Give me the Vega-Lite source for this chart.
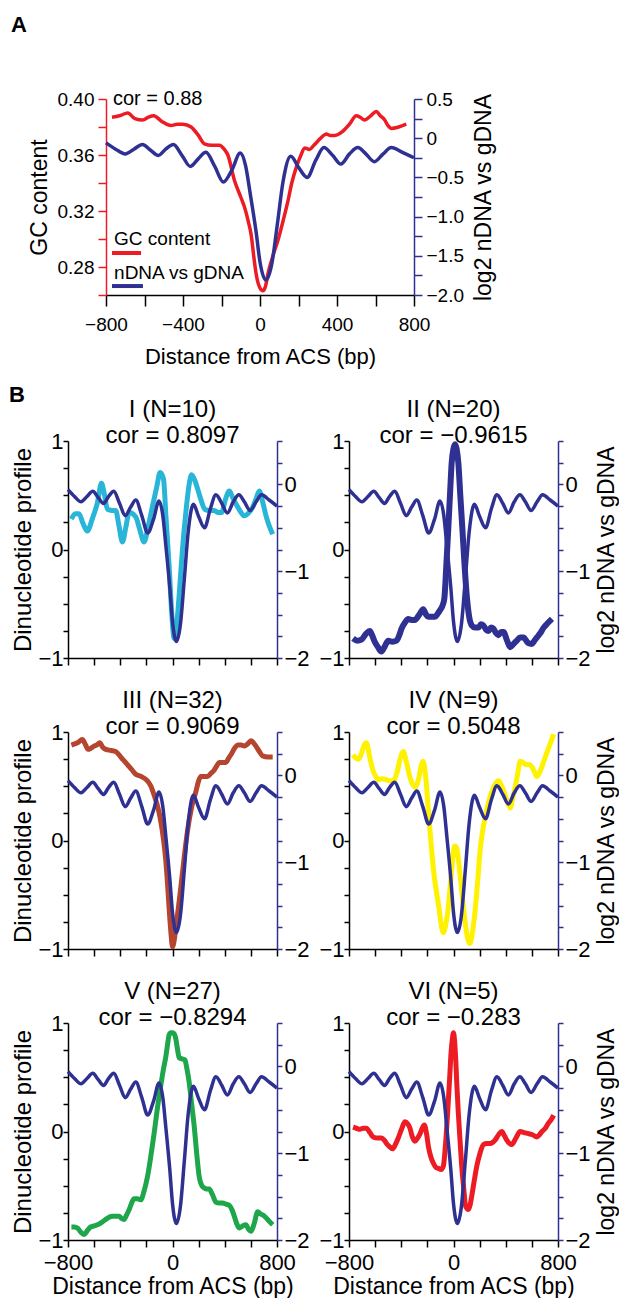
{
"$schema": "https://vega.github.io/schema/vega-lite/v6.json",
"background": "white",
"padding": {"left": 8, "top": 14, "right": 0, "bottom": 0},
"config": {
  "font": "Liberation Sans",
  "view": {"stroke": null},
  "axis": {"grid": false, "labelFont": "Liberation Sans", "titleFont": "Liberation Sans", "labelColor": "#000", "titleColor": "#000", "titleFontWeight": "normal", "domainWidth": 1.5, "tickWidth": 1.5, "labelFlush": false, "labelOverlap": false, "labelBound": false},
  "title": {"font": "Liberation Sans", "fontWeight": "normal", "color": "#000"}
},
"datasets": {
"ndna": [{"pos":-800,"val":-0.06},{"pos":-750,"val":-0.14},{"pos":-700,"val":-0.2},{"pos":-655,"val":-0.14},{"pos":-610,"val":-0.08},{"pos":-570,"val":-0.15},{"pos":-528,"val":-0.22},{"pos":-490,"val":-0.14},{"pos":-450,"val":-0.08},{"pos":-405,"val":-0.22},{"pos":-362,"val":-0.36},{"pos":-320,"val":-0.26},{"pos":-281,"val":-0.18},{"pos":-235,"val":-0.36},{"pos":-190,"val":-0.56},{"pos":-145,"val":-0.4},{"pos":-103,"val":-0.19},{"pos":-75,"val":-0.35},{"pos":-50,"val":-0.72},{"pos":-20,"val":-1.2},{"pos":0,"val":-1.58},{"pos":30,"val":-1.81},{"pos":60,"val":-1.62},{"pos":90,"val":-1.1},{"pos":120,"val":-0.55},{"pos":160,"val":-0.23},{"pos":200,"val":-0.37},{"pos":245,"val":-0.5},{"pos":290,"val":-0.28},{"pos":332,"val":-0.12},{"pos":378,"val":-0.22},{"pos":420,"val":-0.33},{"pos":465,"val":-0.2},{"pos":508,"val":-0.12},{"pos":550,"val":-0.2},{"pos":594,"val":-0.3},{"pos":640,"val":-0.2},{"pos":682,"val":-0.12},{"pos":740,"val":-0.18},{"pos":800,"val":-0.25}],
"gc": [{"pos":-769,"val":0.387},{"pos":-730,"val":0.388},{"pos":-687,"val":0.39},{"pos":-650,"val":0.386},{"pos":-609,"val":0.385},{"pos":-580,"val":0.387},{"pos":-552,"val":0.388},{"pos":-510,"val":0.384},{"pos":-462,"val":0.381},{"pos":-430,"val":0.382},{"pos":-401,"val":0.382},{"pos":-358,"val":0.38},{"pos":-320,"val":0.374},{"pos":-289,"val":0.368},{"pos":-250,"val":0.367},{"pos":-211,"val":0.367},{"pos":-185,"val":0.364},{"pos":-167,"val":0.36},{"pos":-133,"val":0.342},{"pos":-100,"val":0.33},{"pos":-81,"val":0.323},{"pos":-60,"val":0.312},{"pos":-46,"val":0.303},{"pos":-30,"val":0.285},{"pos":-20,"val":0.275},{"pos":0,"val":0.265},{"pos":15,"val":0.263},{"pos":30,"val":0.267},{"pos":41,"val":0.275},{"pos":65,"val":0.287},{"pos":93,"val":0.299},{"pos":120,"val":0.313},{"pos":145,"val":0.327},{"pos":165,"val":0.34},{"pos":188,"val":0.351},{"pos":210,"val":0.359},{"pos":232,"val":0.365},{"pos":257,"val":0.364},{"pos":280,"val":0.367},{"pos":301,"val":0.37},{"pos":322,"val":0.373},{"pos":344,"val":0.375},{"pos":366,"val":0.374},{"pos":388,"val":0.374},{"pos":410,"val":0.375},{"pos":431,"val":0.377},{"pos":465,"val":0.382},{"pos":500,"val":0.388},{"pos":520,"val":0.387},{"pos":543,"val":0.385},{"pos":575,"val":0.388},{"pos":604,"val":0.391},{"pos":625,"val":0.388},{"pos":648,"val":0.385},{"pos":665,"val":0.381},{"pos":683,"val":0.379},{"pos":720,"val":0.38},{"pos":760,"val":0.382}],
"d1": [{"pos":-774,"val":0.28},{"pos":-745,"val":0.33},{"pos":-716,"val":0.33},{"pos":-685,"val":0.24},{"pos":-652,"val":0.17},{"pos":-615,"val":0.28},{"pos":-575,"val":0.43},{"pos":-544,"val":0.61},{"pos":-520,"val":0.5},{"pos":-498,"val":0.37},{"pos":-465,"val":0.36},{"pos":-435,"val":0.36},{"pos":-410,"val":0.22},{"pos":-383,"val":0.07},{"pos":-358,"val":0.2},{"pos":-332,"val":0.34},{"pos":-281,"val":0.3},{"pos":-250,"val":0.18},{"pos":-217,"val":0.07},{"pos":-185,"val":0.22},{"pos":-153,"val":0.4},{"pos":-120,"val":0.58},{"pos":-95,"val":0.71},{"pos":-69,"val":0.65},{"pos":-50,"val":0.3},{"pos":-26,"val":-0.15},{"pos":-5,"val":-0.6},{"pos":13,"val":-0.82},{"pos":32,"val":-0.7},{"pos":51,"val":-0.42},{"pos":75,"val":-0.02},{"pos":102,"val":0.34},{"pos":125,"val":0.58},{"pos":146,"val":0.69},{"pos":170,"val":0.64},{"pos":192,"val":0.56},{"pos":220,"val":0.45},{"pos":248,"val":0.37},{"pos":285,"val":0.36},{"pos":320,"val":0.36},{"pos":350,"val":0.34},{"pos":376,"val":0.34},{"pos":405,"val":0.46},{"pos":435,"val":0.54},{"pos":460,"val":0.48},{"pos":486,"val":0.42},{"pos":520,"val":0.35},{"pos":550,"val":0.31},{"pos":585,"val":0.34},{"pos":614,"val":0.39},{"pos":640,"val":0.47},{"pos":665,"val":0.54},{"pos":690,"val":0.44},{"pos":716,"val":0.31},{"pos":740,"val":0.22},{"pos":767,"val":0.14}],
"d2": [{"pos":-769,"val":-0.82},{"pos":-737,"val":-0.84},{"pos":-705,"val":-0.83},{"pos":-672,"val":-0.78},{"pos":-641,"val":-0.75},{"pos":-620,"val":-0.8},{"pos":-603,"val":-0.85},{"pos":-578,"val":-0.9},{"pos":-552,"val":-0.94},{"pos":-525,"val":-0.89},{"pos":-500,"val":-0.84},{"pos":-468,"val":-0.85},{"pos":-436,"val":-0.84},{"pos":-415,"val":-0.79},{"pos":-398,"val":-0.73},{"pos":-370,"val":-0.67},{"pos":-347,"val":-0.64},{"pos":-320,"val":-0.65},{"pos":-296,"val":-0.65},{"pos":-262,"val":-0.6},{"pos":-232,"val":-0.55},{"pos":-210,"val":-0.6},{"pos":-193,"val":-0.62},{"pos":-165,"val":-0.62},{"pos":-142,"val":-0.62},{"pos":-120,"val":-0.59},{"pos":-104,"val":-0.56},{"pos":-85,"val":-0.52},{"pos":-70,"val":-0.45},{"pos":-55,"val":-0.15},{"pos":-40,"val":0.19},{"pos":-25,"val":0.55},{"pos":-14,"val":0.8},{"pos":0,"val":0.93},{"pos":12,"val":0.97},{"pos":25,"val":0.92},{"pos":37,"val":0.8},{"pos":52,"val":0.5},{"pos":68,"val":0.19},{"pos":85,"val":-0.15},{"pos":101,"val":-0.42},{"pos":120,"val":-0.62},{"pos":140,"val":-0.7},{"pos":165,"val":-0.72},{"pos":191,"val":-0.72},{"pos":210,"val":-0.69},{"pos":229,"val":-0.7},{"pos":250,"val":-0.74},{"pos":268,"val":-0.75},{"pos":288,"val":-0.72},{"pos":306,"val":-0.73},{"pos":325,"val":-0.77},{"pos":344,"val":-0.79},{"pos":365,"val":-0.76},{"pos":383,"val":-0.76},{"pos":410,"val":-0.84},{"pos":434,"val":-0.9},{"pos":460,"val":-0.87},{"pos":485,"val":-0.84},{"pos":510,"val":-0.81},{"pos":536,"val":-0.81},{"pos":570,"val":-0.86},{"pos":600,"val":-0.87},{"pos":620,"val":-0.84},{"pos":639,"val":-0.81},{"pos":665,"val":-0.77},{"pos":690,"val":-0.72},{"pos":720,"val":-0.68},{"pos":754,"val":-0.64}],
"d3": [{"pos":-774,"val":0.88},{"pos":-750,"val":0.89},{"pos":-728,"val":0.9},{"pos":-690,"val":0.93},{"pos":-665,"val":0.88},{"pos":-647,"val":0.84},{"pos":-625,"val":0.85},{"pos":-601,"val":0.87},{"pos":-580,"val":0.88},{"pos":-557,"val":0.9},{"pos":-535,"val":0.86},{"pos":-511,"val":0.84},{"pos":-470,"val":0.83},{"pos":-435,"val":0.82},{"pos":-390,"val":0.76},{"pos":-345,"val":0.7},{"pos":-310,"val":0.65},{"pos":-281,"val":0.61},{"pos":-240,"val":0.59},{"pos":-192,"val":0.55},{"pos":-165,"val":0.5},{"pos":-141,"val":0.42},{"pos":-115,"val":0.32},{"pos":-90,"val":0.18},{"pos":-70,"val":0.02},{"pos":-51,"val":-0.19},{"pos":-38,"val":-0.4},{"pos":-26,"val":-0.62},{"pos":-12,"val":-0.85},{"pos":0,"val":-0.98},{"pos":13,"val":-0.92},{"pos":26,"val":-0.8},{"pos":45,"val":-0.62},{"pos":64,"val":-0.43},{"pos":90,"val":-0.15},{"pos":115,"val":0.09},{"pos":145,"val":0.3},{"pos":179,"val":0.45},{"pos":200,"val":0.55},{"pos":217,"val":0.59},{"pos":245,"val":0.59},{"pos":268,"val":0.59},{"pos":295,"val":0.62},{"pos":320,"val":0.65},{"pos":340,"val":0.69},{"pos":358,"val":0.72},{"pos":385,"val":0.72},{"pos":409,"val":0.72},{"pos":430,"val":0.76},{"pos":447,"val":0.79},{"pos":475,"val":0.85},{"pos":499,"val":0.88},{"pos":525,"val":0.88},{"pos":550,"val":0.87},{"pos":575,"val":0.89},{"pos":601,"val":0.92},{"pos":620,"val":0.9},{"pos":639,"val":0.87},{"pos":665,"val":0.82},{"pos":690,"val":0.78},{"pos":730,"val":0.77},{"pos":767,"val":0.77}],
"d4": [{"pos":-769,"val":0.79},{"pos":-748,"val":0.76},{"pos":-726,"val":0.75},{"pos":-700,"val":0.82},{"pos":-680,"val":0.89},{"pos":-667,"val":0.9},{"pos":-640,"val":0.76},{"pos":-615,"val":0.64},{"pos":-590,"val":0.58},{"pos":-577,"val":0.56},{"pos":-545,"val":0.57},{"pos":-513,"val":0.56},{"pos":-490,"val":0.55},{"pos":-462,"val":0.55},{"pos":-430,"val":0.64},{"pos":-405,"val":0.77},{"pos":-384,"val":0.82},{"pos":-360,"val":0.72},{"pos":-333,"val":0.58},{"pos":-295,"val":0.49},{"pos":-265,"val":0.58},{"pos":-245,"val":0.7},{"pos":-232,"val":0.73},{"pos":-210,"val":0.55},{"pos":-192,"val":0.27},{"pos":-175,"val":0.02},{"pos":-155,"val":-0.25},{"pos":-130,"val":-0.48},{"pos":-111,"val":-0.62},{"pos":-95,"val":-0.77},{"pos":-78,"val":-0.85},{"pos":-60,"val":-0.78},{"pos":-40,"val":-0.62},{"pos":-20,"val":-0.35},{"pos":0,"val":-0.1},{"pos":10,"val":-0.05},{"pos":24,"val":-0.07},{"pos":38,"val":-0.18},{"pos":50,"val":-0.31},{"pos":70,"val":-0.55},{"pos":88,"val":-0.74},{"pos":108,"val":-0.9},{"pos":124,"val":-0.95},{"pos":145,"val":-0.85},{"pos":165,"val":-0.65},{"pos":185,"val":-0.38},{"pos":203,"val":-0.1},{"pos":222,"val":0.08},{"pos":242,"val":0.21},{"pos":268,"val":0.35},{"pos":293,"val":0.45},{"pos":320,"val":0.52},{"pos":344,"val":0.55},{"pos":370,"val":0.5},{"pos":395,"val":0.42},{"pos":415,"val":0.35},{"pos":434,"val":0.3},{"pos":452,"val":0.38},{"pos":472,"val":0.49},{"pos":492,"val":0.62},{"pos":510,"val":0.73},{"pos":532,"val":0.72},{"pos":554,"val":0.7},{"pos":575,"val":0.7},{"pos":600,"val":0.68},{"pos":620,"val":0.63},{"pos":638,"val":0.59},{"pos":660,"val":0.63},{"pos":677,"val":0.68},{"pos":697,"val":0.75},{"pos":715,"val":0.81},{"pos":740,"val":0.89},{"pos":767,"val":0.98}],
"d5": [{"pos":-774,"val":-0.88},{"pos":-750,"val":-0.88},{"pos":-728,"val":-0.89},{"pos":-700,"val":-0.93},{"pos":-677,"val":-0.95},{"pos":-650,"val":-0.91},{"pos":-626,"val":-0.88},{"pos":-600,"val":-0.87},{"pos":-575,"val":-0.86},{"pos":-545,"val":-0.84},{"pos":-511,"val":-0.81},{"pos":-485,"val":-0.79},{"pos":-460,"val":-0.78},{"pos":-435,"val":-0.78},{"pos":-409,"val":-0.78},{"pos":-390,"val":-0.8},{"pos":-371,"val":-0.81},{"pos":-352,"val":-0.77},{"pos":-332,"val":-0.72},{"pos":-310,"val":-0.65},{"pos":-294,"val":-0.62},{"pos":-270,"val":-0.62},{"pos":-243,"val":-0.63},{"pos":-218,"val":-0.55},{"pos":-192,"val":-0.42},{"pos":-165,"val":-0.22},{"pos":-141,"val":-0.02},{"pos":-115,"val":0.22},{"pos":-90,"val":0.42},{"pos":-70,"val":0.57},{"pos":-51,"val":0.69},{"pos":-38,"val":0.8},{"pos":-26,"val":0.89},{"pos":-12,"val":0.91},{"pos":0,"val":0.91},{"pos":13,"val":0.9},{"pos":26,"val":0.85},{"pos":38,"val":0.76},{"pos":51,"val":0.68},{"pos":72,"val":0.67},{"pos":95,"val":0.66},{"pos":110,"val":0.58},{"pos":128,"val":0.45},{"pos":147,"val":0.25},{"pos":166,"val":0.05},{"pos":185,"val":-0.2},{"pos":205,"val":-0.42},{"pos":225,"val":-0.5},{"pos":243,"val":-0.52},{"pos":262,"val":-0.53},{"pos":281,"val":-0.53},{"pos":305,"val":-0.58},{"pos":332,"val":-0.65},{"pos":358,"val":-0.66},{"pos":383,"val":-0.66},{"pos":410,"val":-0.67},{"pos":434,"val":-0.68},{"pos":455,"val":-0.72},{"pos":473,"val":-0.78},{"pos":492,"val":-0.85},{"pos":511,"val":-0.89},{"pos":537,"val":-0.87},{"pos":562,"val":-0.86},{"pos":582,"val":-0.9},{"pos":601,"val":-0.92},{"pos":625,"val":-0.85},{"pos":652,"val":-0.74},{"pos":675,"val":-0.76},{"pos":703,"val":-0.78},{"pos":735,"val":-0.82},{"pos":767,"val":-0.86}],
"d6": [{"pos":-769,"val":0.04},{"pos":-743,"val":0.03},{"pos":-718,"val":0.02},{"pos":-690,"val":0.03},{"pos":-667,"val":0.03},{"pos":-640,"val":-0.01},{"pos":-615,"val":-0.05},{"pos":-580,"val":-0.06},{"pos":-551,"val":-0.06},{"pos":-530,"val":-0.08},{"pos":-513,"val":-0.11},{"pos":-490,"val":-0.14},{"pos":-467,"val":-0.16},{"pos":-445,"val":-0.12},{"pos":-423,"val":-0.06},{"pos":-395,"val":0.03},{"pos":-372,"val":0.09},{"pos":-350,"val":0.07},{"pos":-333,"val":0.03},{"pos":-315,"val":-0.05},{"pos":-295,"val":-0.09},{"pos":-275,"val":-0.06},{"pos":-256,"val":-0.02},{"pos":-240,"val":0.03},{"pos":-223,"val":0.06},{"pos":-205,"val":-0.03},{"pos":-192,"val":-0.14},{"pos":-172,"val":-0.24},{"pos":-155,"val":-0.29},{"pos":-135,"val":-0.33},{"pos":-116,"val":-0.34},{"pos":-95,"val":-0.35},{"pos":-78,"val":-0.32},{"pos":-60,"val":-0.1},{"pos":-45,"val":0.17},{"pos":-30,"val":0.48},{"pos":-19,"val":0.72},{"pos":-8,"val":0.86},{"pos":0,"val":0.91},{"pos":8,"val":0.84},{"pos":16,"val":0.69},{"pos":26,"val":0.42},{"pos":37,"val":0.17},{"pos":50,"val":-0.08},{"pos":63,"val":-0.32},{"pos":78,"val":-0.52},{"pos":93,"val":-0.69},{"pos":114,"val":-0.72},{"pos":127,"val":-0.68},{"pos":139,"val":-0.6},{"pos":158,"val":-0.46},{"pos":178,"val":-0.32},{"pos":203,"val":-0.2},{"pos":229,"val":-0.12},{"pos":255,"val":-0.11},{"pos":280,"val":-0.11},{"pos":300,"val":-0.1},{"pos":318,"val":-0.08},{"pos":345,"val":-0.03},{"pos":370,"val":0.0},{"pos":390,"val":-0.04},{"pos":408,"val":-0.08},{"pos":428,"val":-0.11},{"pos":446,"val":-0.12},{"pos":478,"val":-0.06},{"pos":510,"val":0.0},{"pos":540,"val":-0.01},{"pos":574,"val":-0.02},{"pos":605,"val":-0.03},{"pos":638,"val":-0.05},{"pos":658,"val":-0.03},{"pos":677,"val":0.0},{"pos":703,"val":0.03},{"pos":728,"val":0.08},{"pos":748,"val":0.11},{"pos":767,"val":0.15}]
},
"spacing": 17,
"vconcat": [
{
  "title": {"text": "A", "anchor": "start", "fontSize": 22, "fontWeight": "bold", "dx": -17, "offset": 52},
  "width": 346, "height": 196,
  "layer": [
    {"data": {"name": "gc"}, "mark": {"type": "line", "color": "#ed1c24", "strokeWidth": 3.5, "interpolate": "monotone"},
     "encoding": {
       "x": {"field": "pos", "type": "quantitative", "scale": {"domain": [-800, 800], "range": [38, 346], "nice": false, "zero": false},
         "axis": {"values": [-800,-700,-600,-500,-400,-300,-200,-100,0,100,200,300,400,500,600,700,800], "labelExpr": "datum.value % 400 == 0 ? format(datum.value, 'd') : ''", "title": "Distance from ACS (bp)", "titleFontSize": 22, "labelFontSize": 19, "tickSize": 11, "labelPadding": 9, "titlePadding": 12, "domainColor": "#000", "tickColor": "#000"}},
       "y": {"field": "val", "type": "quantitative", "scale": {"domain": [0.26, 0.40], "nice": false, "zero": false},
         "axis": {"orient": "left", "offset": -38, "values": [0.26,0.28,0.30,0.32,0.34,0.36,0.38,0.40], "labelExpr": "round(datum.value*100) % 4 == 0 ? format(datum.value, '.2f') : ''", "title": "GC content", "titleFontSize": 23, "labelFontSize": 19, "tickSize": 8, "labelPadding": 4, "titlePadding": 6, "domainColor": "#ed1c24", "tickColor": "#ed1c24"}}}},
    {"data": {"values": [{"label": "cor = 0.88"}]}, "mark": {"type": "text", "align": "left", "baseline": "middle", "fontSize": 20, "color": "#000"},
     "encoding": {"x": {"datum": -764, "type": "quantitative"}, "y": {"datum": 0.40, "type": "quantitative", "scale": {"domain": [0.26, 0.40], "nice": false, "zero": false}, "axis": null}, "text": {"field": "label"}}},
    {"data": {"values": [{"label": "GC content"}]}, "mark": {"type": "text", "align": "left", "baseline": "middle", "fontSize": 19, "color": "#000"},
     "encoding": {"x": {"datum": -758, "type": "quantitative"}, "y": {"datum": 0.300, "type": "quantitative", "scale": {"domain": [0.26, 0.40], "nice": false, "zero": false}, "axis": null}, "text": {"field": "label"}}},
    {"data": {"values": [{"series": "GC content"}]}, "mark": {"type": "rule", "color": "#ed1c24", "strokeWidth": 4},
     "encoding": {"x": {"datum": -769, "type": "quantitative"}, "x2": {"datum": -618}, "y": {"datum": 0.290, "type": "quantitative", "scale": {"domain": [0.26, 0.40], "nice": false, "zero": false}, "axis": null}}},
    {"data": {"values": [{"label": "nDNA vs gDNA"}]}, "mark": {"type": "text", "align": "left", "baseline": "middle", "fontSize": 19, "color": "#000"},
     "encoding": {"x": {"datum": -758, "type": "quantitative"}, "y": {"datum": 0.2757, "type": "quantitative", "scale": {"domain": [0.26, 0.40], "nice": false, "zero": false}, "axis": null}, "text": {"field": "label"}}},
    {"data": {"values": [{"series": "nDNA vs gDNA"}]}, "mark": {"type": "rule", "color": "#2e3192", "strokeWidth": 4},
     "encoding": {"x": {"datum": -769, "type": "quantitative"}, "x2": {"datum": -608}, "y": {"datum": 0.2664, "type": "quantitative", "scale": {"domain": [0.26, 0.40], "nice": false, "zero": false}, "axis": null}}},
    {"data": {"name": "ndna"}, "mark": {"type": "line", "color": "#2e3192", "strokeWidth": 3.5, "interpolate": "monotone"},
     "encoding": {
       "x": {"field": "pos", "type": "quantitative"},
       "y": {"field": "val", "type": "quantitative", "scale": {"domain": [-2, 0.5], "nice": false, "zero": false},
         "axis": {"orient": "right", "values": [-2,-1.75,-1.5,-1.25,-1,-0.75,-0.5,-0.25,0,0.25,0.5], "labelExpr": "datum.value == 0 ? '0' : (round(datum.value*4) % 2 == 0 ? format(datum.value, '.1f') : '')", "title": "log2 nDNA vs gDNA", "titleAngle": 270, "titleBaseline": "top", "titleFontSize": 23, "labelFontSize": 19, "tickSize": 8, "labelPadding": 4, "titlePadding": 9, "domainColor": "#2e3192", "tickColor": "#2e3192"}}}}
  ],
  "resolve": {"scale": {"y": "independent"}}
},
{
  "title": {"text": "B", "anchor": "start", "fontSize": 22, "fontWeight": "bold", "dx": -3, "offset": -9},
  "columns": 2,
  "spacing": {"row": 20, "column": 8},
  "concat": [
    {"title": {"text": ["I (N=10)", "cor = 0.8097"], "frame": "group", "fontSize": 24, "lineHeight": 26, "offset": -18},
     "width": 209, "height": 217,
     "encoding": {"x": {"field": "pos", "type": "quantitative", "scale": {"domain": [-800, 800], "nice": false, "zero": false}, "axis": {"values": [-800,-600,-400,-200,0,200,400,600,800], "labels": false, "title": null, "tickSize": 7, "domainColor": "#000", "tickColor": "#000"}}},
     "layer": [
       {"data": {"name": "d1"}, "mark": {"type": "line", "color": "#29b5d8", "strokeWidth": 5, "interpolate": "monotone"},
        "encoding": {"y": {"field": "val", "type": "quantitative", "scale": {"domain": [-1, 1], "nice": false, "zero": false}, "axis": {"orient": "left", "values": [-1,-0.75,-0.5,-0.25,0,0.25,0.5,0.75,1], "labelExpr": "datum.value % 1 == 0 ? format(datum.value, 'd') : ''", "title": "Dinucleotide profile", "titleFontSize": 24, "labelFontSize": 22, "tickSize": 5, "labelPadding": 0, "titlePadding": 2, "domainColor": "#000", "tickColor": "#000"}}}},
       {"data": {"name": "ndna"}, "mark": {"type": "line", "color": "#2e3192", "strokeWidth": 3.5, "interpolate": "monotone"},
        "encoding": {"y": {"field": "val", "type": "quantitative", "scale": {"domain": [-2, 0.5], "nice": false, "zero": false}, "axis": {"orient": "right", "values": [-2,-1.75,-1.5,-1.25,-1,-0.75,-0.5,-0.25,0,0.25,0.5], "labelExpr": "datum.value % 1 == 0 ? format(datum.value, 'd') : ''", "title": null, "labelFontSize": 22, "tickSize": 5, "labelPadding": 2, "domainColor": "#2e3192", "tickColor": "#2e3192"}}}}
     ],
     "resolve": {"scale": {"y": "independent"}}},
    {"title": {"text": ["II (N=20)", "cor = \u22120.9615"], "frame": "group", "fontSize": 24, "lineHeight": 26, "offset": -18},
     "width": 209, "height": 217,
     "encoding": {"x": {"field": "pos", "type": "quantitative", "scale": {"domain": [-800, 800], "nice": false, "zero": false}, "axis": {"values": [-800,-600,-400,-200,0,200,400,600,800], "labels": false, "title": null, "tickSize": 7, "domainColor": "#000", "tickColor": "#000"}}},
     "layer": [
       {"data": {"name": "d2"}, "mark": {"type": "line", "color": "#2e3192", "strokeWidth": 6, "interpolate": "monotone"},
        "encoding": {"y": {"field": "val", "type": "quantitative", "scale": {"domain": [-1, 1], "nice": false, "zero": false}, "axis": {"orient": "left", "values": [-1,-0.75,-0.5,-0.25,0,0.25,0.5,0.75,1], "labelExpr": "datum.value % 1 == 0 ? format(datum.value, 'd') : ''", "title": null, "labelFontSize": 22, "tickSize": 5, "labelPadding": 0, "domainColor": "#000", "tickColor": "#000"}}}},
       {"data": {"name": "ndna"}, "mark": {"type": "line", "color": "#2e3192", "strokeWidth": 3.5, "interpolate": "monotone"},
        "encoding": {"y": {"field": "val", "type": "quantitative", "scale": {"domain": [-2, 0.5], "nice": false, "zero": false}, "axis": {"orient": "right", "values": [-2,-1.75,-1.5,-1.25,-1,-0.75,-0.5,-0.25,0,0.25,0.5], "labelExpr": "datum.value % 1 == 0 ? format(datum.value, 'd') : ''", "title": "log2 nDNA vs gDNA", "titleAngle": 270, "titleBaseline": "top", "titleFontSize": 23, "labelFontSize": 22, "tickSize": 5, "labelPadding": 2, "titlePadding": 5, "domainColor": "#2e3192", "tickColor": "#2e3192"}}}}
     ],
     "resolve": {"scale": {"y": "independent"}}},
    {"title": {"text": ["III (N=32)", "cor = 0.9069"], "frame": "group", "fontSize": 24, "lineHeight": 26, "offset": -18},
     "width": 209, "height": 217,
     "encoding": {"x": {"field": "pos", "type": "quantitative", "scale": {"domain": [-800, 800], "nice": false, "zero": false}, "axis": {"values": [-800,-600,-400,-200,0,200,400,600,800], "labels": false, "title": null, "tickSize": 7, "domainColor": "#000", "tickColor": "#000"}}},
     "layer": [
       {"data": {"name": "d3"}, "mark": {"type": "line", "color": "#b5452f", "strokeWidth": 5, "interpolate": "monotone"},
        "encoding": {"y": {"field": "val", "type": "quantitative", "scale": {"domain": [-1, 1], "nice": false, "zero": false}, "axis": {"orient": "left", "values": [-1,-0.75,-0.5,-0.25,0,0.25,0.5,0.75,1], "labelExpr": "datum.value % 1 == 0 ? format(datum.value, 'd') : ''", "title": "Dinucleotide profile", "titleFontSize": 24, "labelFontSize": 22, "tickSize": 5, "labelPadding": 0, "titlePadding": 2, "domainColor": "#000", "tickColor": "#000"}}}},
       {"data": {"name": "ndna"}, "mark": {"type": "line", "color": "#2e3192", "strokeWidth": 3.5, "interpolate": "monotone"},
        "encoding": {"y": {"field": "val", "type": "quantitative", "scale": {"domain": [-2, 0.5], "nice": false, "zero": false}, "axis": {"orient": "right", "values": [-2,-1.75,-1.5,-1.25,-1,-0.75,-0.5,-0.25,0,0.25,0.5], "labelExpr": "datum.value % 1 == 0 ? format(datum.value, 'd') : ''", "title": null, "labelFontSize": 22, "tickSize": 5, "labelPadding": 2, "domainColor": "#2e3192", "tickColor": "#2e3192"}}}}
     ],
     "resolve": {"scale": {"y": "independent"}}},
    {"title": {"text": ["IV (N=9)", "cor = 0.5048"], "frame": "group", "fontSize": 24, "lineHeight": 26, "offset": -18},
     "width": 209, "height": 217,
     "encoding": {"x": {"field": "pos", "type": "quantitative", "scale": {"domain": [-800, 800], "nice": false, "zero": false}, "axis": {"values": [-800,-600,-400,-200,0,200,400,600,800], "labels": false, "title": null, "tickSize": 7, "domainColor": "#000", "tickColor": "#000"}}},
     "layer": [
       {"data": {"name": "d4"}, "mark": {"type": "line", "color": "#fff200", "strokeWidth": 5, "interpolate": "monotone"},
        "encoding": {"y": {"field": "val", "type": "quantitative", "scale": {"domain": [-1, 1], "nice": false, "zero": false}, "axis": {"orient": "left", "values": [-1,-0.75,-0.5,-0.25,0,0.25,0.5,0.75,1], "labelExpr": "datum.value % 1 == 0 ? format(datum.value, 'd') : ''", "title": null, "labelFontSize": 22, "tickSize": 5, "labelPadding": 0, "domainColor": "#000", "tickColor": "#000"}}}},
       {"data": {"name": "ndna"}, "mark": {"type": "line", "color": "#2e3192", "strokeWidth": 3.5, "interpolate": "monotone"},
        "encoding": {"y": {"field": "val", "type": "quantitative", "scale": {"domain": [-2, 0.5], "nice": false, "zero": false}, "axis": {"orient": "right", "values": [-2,-1.75,-1.5,-1.25,-1,-0.75,-0.5,-0.25,0,0.25,0.5], "labelExpr": "datum.value % 1 == 0 ? format(datum.value, 'd') : ''", "title": "log2 nDNA vs gDNA", "titleAngle": 270, "titleBaseline": "top", "titleFontSize": 23, "labelFontSize": 22, "tickSize": 5, "labelPadding": 2, "titlePadding": 5, "domainColor": "#2e3192", "tickColor": "#2e3192"}}}}
     ],
     "resolve": {"scale": {"y": "independent"}}},
    {"title": {"text": ["V (N=27)", "cor = \u22120.8294"], "frame": "group", "fontSize": 24, "lineHeight": 26, "offset": -18},
     "width": 209, "height": 217,
     "encoding": {"x": {"field": "pos", "type": "quantitative", "scale": {"domain": [-800, 800], "nice": false, "zero": false}, "axis": {"values": [-800,-600,-400,-200,0,200,400,600,800], "labelExpr": "datum.value % 800 == 0 ? format(datum.value, 'd') : ''", "title": "Distance from ACS (bp)", "titleFontSize": 23, "labelFontSize": 22, "tickSize": 7, "labelPadding": 5, "titlePadding": 2, "domainColor": "#000", "tickColor": "#000"}}},
     "layer": [
       {"data": {"name": "d5"}, "mark": {"type": "line", "color": "#1ea64b", "strokeWidth": 5, "interpolate": "monotone"},
        "encoding": {"y": {"field": "val", "type": "quantitative", "scale": {"domain": [-1, 1], "nice": false, "zero": false}, "axis": {"orient": "left", "values": [-1,-0.75,-0.5,-0.25,0,0.25,0.5,0.75,1], "labelExpr": "datum.value % 1 == 0 ? format(datum.value, 'd') : ''", "title": "Dinucleotide profile", "titleFontSize": 24, "labelFontSize": 22, "tickSize": 5, "labelPadding": 0, "titlePadding": 2, "domainColor": "#000", "tickColor": "#000"}}}},
       {"data": {"name": "ndna"}, "mark": {"type": "line", "color": "#2e3192", "strokeWidth": 3.5, "interpolate": "monotone"},
        "encoding": {"y": {"field": "val", "type": "quantitative", "scale": {"domain": [-2, 0.5], "nice": false, "zero": false}, "axis": {"orient": "right", "values": [-2,-1.75,-1.5,-1.25,-1,-0.75,-0.5,-0.25,0,0.25,0.5], "labelExpr": "datum.value % 1 == 0 ? format(datum.value, 'd') : ''", "title": null, "labelFontSize": 22, "tickSize": 5, "labelPadding": 2, "domainColor": "#2e3192", "tickColor": "#2e3192"}}}}
     ],
     "resolve": {"scale": {"y": "independent"}}},
    {"title": {"text": ["VI (N=5)", "cor = \u22120.283"], "frame": "group", "fontSize": 24, "lineHeight": 26, "offset": -18},
     "width": 209, "height": 217,
     "encoding": {"x": {"field": "pos", "type": "quantitative", "scale": {"domain": [-800, 800], "nice": false, "zero": false}, "axis": {"values": [-800,-600,-400,-200,0,200,400,600,800], "labelExpr": "datum.value % 800 == 0 ? format(datum.value, 'd') : ''", "title": "Distance from ACS (bp)", "titleFontSize": 23, "labelFontSize": 22, "tickSize": 7, "labelPadding": 5, "titlePadding": 2, "domainColor": "#000", "tickColor": "#000"}}},
     "layer": [
       {"data": {"name": "d6"}, "mark": {"type": "line", "color": "#ed1c24", "strokeWidth": 5, "interpolate": "monotone"},
        "encoding": {"y": {"field": "val", "type": "quantitative", "scale": {"domain": [-1, 1], "nice": false, "zero": false}, "axis": {"orient": "left", "values": [-1,-0.75,-0.5,-0.25,0,0.25,0.5,0.75,1], "labelExpr": "datum.value % 1 == 0 ? format(datum.value, 'd') : ''", "title": null, "labelFontSize": 22, "tickSize": 5, "labelPadding": 0, "domainColor": "#000", "tickColor": "#000"}}}},
       {"data": {"name": "ndna"}, "mark": {"type": "line", "color": "#2e3192", "strokeWidth": 3.5, "interpolate": "monotone"},
        "encoding": {"y": {"field": "val", "type": "quantitative", "scale": {"domain": [-2, 0.5], "nice": false, "zero": false}, "axis": {"orient": "right", "values": [-2,-1.75,-1.5,-1.25,-1,-0.75,-0.5,-0.25,0,0.25,0.5], "labelExpr": "datum.value % 1 == 0 ? format(datum.value, 'd') : ''", "title": "log2 nDNA vs gDNA", "titleAngle": 270, "titleBaseline": "top", "titleFontSize": 23, "labelFontSize": 22, "tickSize": 5, "labelPadding": 2, "titlePadding": 5, "domainColor": "#2e3192", "tickColor": "#2e3192"}}}}
     ],
     "resolve": {"scale": {"y": "independent"}}}
  ]
}
]
}
